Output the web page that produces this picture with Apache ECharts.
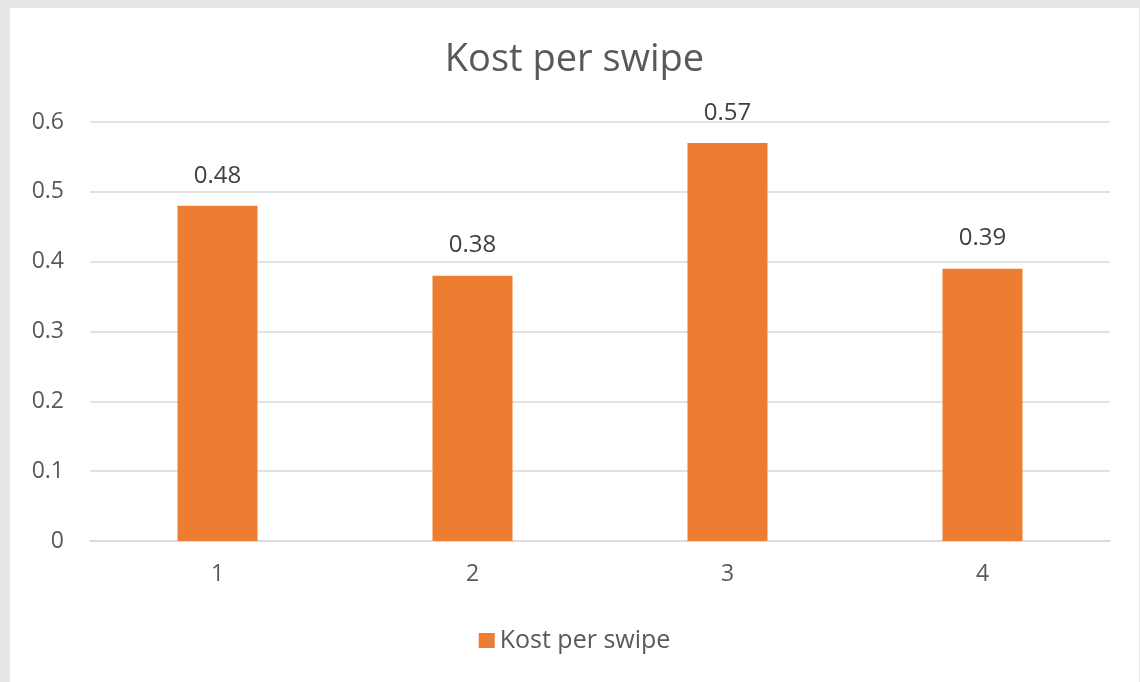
<!DOCTYPE html>
<html>
<head>
<meta charset="utf-8">
<script src="https://cdn.jsdelivr.net/npm/echarts@6/dist/echarts.min.js"></script>
<style>
html,body{margin:0;padding:0;background:#e6e6e6;}
#wrap{position:relative;width:1140px;height:682px;background:#e6e6e6;overflow:hidden;}
#chart{position:absolute;left:10px;top:8px;width:1129px;height:674px;background:#ffffff;}
</style>
</head>
<body>
<div id="wrap"><div id="chart"></div></div>
<script>
const categories = ['1', '2', '3', '4'];
const values = [0.48, 0.38, 0.57, 0.39];
const seriesName = 'Kost per swipe';
const titleText = 'Kost per swipe';

const chart = echarts.init(document.getElementById('chart'));
const font = 'Open Sans, Noto Sans, sans-serif';
chart.setOption({
  animation: false,
  title: {
    text: titleText,
    left: 'center',
    top: 28,
    textStyle: {fontFamily: font, fontSize: 38, fontWeight: 'normal', color: '#595959'}
  },
  legend: {
    data: [seriesName],
    bottom: 24,
    left: 'center',
    icon: 'rect',
    itemWidth: 16,
    itemHeight: 15,
    itemGap: 6,
    textStyle: {fontFamily: font, fontSize: 25, color: '#595959'}
  },
  grid: {left: 80, right: 29, top: 114, bottom: 141, containLabel: false},
  xAxis: {
    type: 'category',
    data: categories,
    axisLine: {lineStyle: {color: '#d9d9d9', width: 1.5}},
    axisTick: {show: false},
    axisLabel: {fontFamily: font, fontSize: 23, color: '#595959', margin: 22}
  },
  yAxis: {
    type: 'value',
    min: 0,
    max: 0.6,
    interval: 0.1,
    axisLine: {show: false},
    axisTick: {show: false},
    splitLine: {lineStyle: {color: '#d9d9d9', width: 1.5}},
    axisLabel: {fontFamily: font, fontSize: 23, color: '#595959', margin: 26,
      formatter: v => (Math.round(v * 10) / 10).toString()}
  },
  series: [{
    name: seriesName,
    type: 'bar',
    data: values,
    barWidth: 80,
    itemStyle: {color: '#ED7D31'},
    label: {
      show: true,
      position: 'top',
      distance: 18,
      fontFamily: font,
      fontSize: 24,
      color: '#404040'
    }
  }]
});
</script>
</body>
</html>
